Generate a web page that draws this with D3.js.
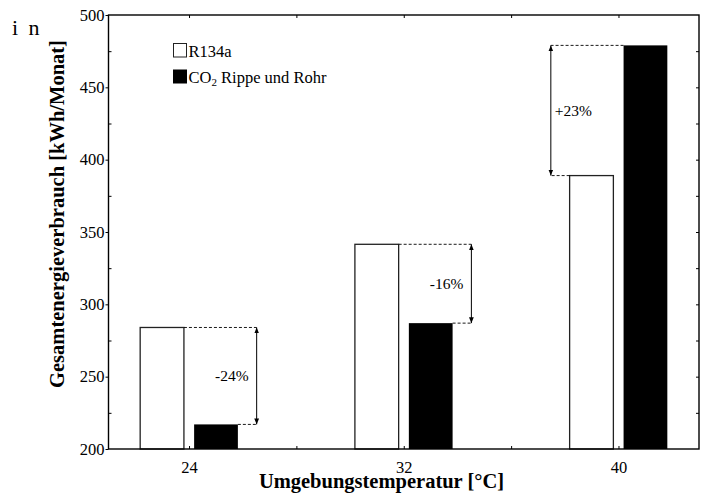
<!DOCTYPE html>
<html>
<head>
<meta charset="utf-8">
<script src="https://cdn.jsdelivr.net/npm/d3@7/dist/d3.min.js"></script>
<style>
  html, body { margin: 0; padding: 0; background: #fff; }
  svg { display: block; }
  text { font-family: "Liberation Serif", "Times New Roman", serif; fill: #000; }
</style>
</head>
<body>
<script>
// ---- data ----
const categories = [24, 32, 40];
const r134aValues = [284, 341.5, 389];
const co2Values = [217, 287, 479];
const changeLabels = ["-24%", "-16%", "+23%"];
const seriesNames = ["R134a", "CO2 Rippe und Rohr"];
const yTickValues = [200, 250, 300, 350, 400, 450, 500];
const xTickValues = [24, 32, 40];

// ---- layout ----
const W = 701, H = 494;
const plot = { left: 108.5, right: 699, top: 15, bottom: 449 };

const svg = d3.select("body").append("svg").attr("width", W).attr("height", H);

const x = d3.scaleLinear().domain([21, 43]).range([plot.left, plot.right]);
const y = d3.scaleLinear().domain([200, 500]).range([plot.bottom, plot.top]);

const halfGap = 0.19, barW = 1.63;

// bars
const g = svg.append("g");
g.selectAll("rect.r134a").data(categories).join("rect")
  .attr("class", "r134a")
  .attr("x", d => x(d - halfGap - barW))
  .attr("width", (d) => x(d - halfGap) - x(d - halfGap - barW))
  .attr("y", (d, i) => y(r134aValues[i]))
  .attr("height", (d, i) => y(200) - y(r134aValues[i]))
  .attr("fill", "#fff").attr("stroke", "#222").attr("stroke-width", 1.3);

g.selectAll("rect.co2").data(categories).join("rect")
  .attr("class", "co2")
  .attr("x", d => x(d + halfGap))
  .attr("width", (d) => x(d + halfGap + barW) - x(d + halfGap))
  .attr("y", (d, i) => y(co2Values[i]))
  .attr("height", (d, i) => y(200) - y(co2Values[i]))
  .attr("fill", "#000");

// axes
const yMajor = d3.axisLeft(y).tickValues(yTickValues).tickSize(3).tickPadding(1).tickFormat(d3.format("d"));
svg.append("g").attr("transform", `translate(${plot.left},0)`).call(yMajor);
const yMinor = d3.axisRight(y).tickValues(d3.range(225, 500, 50)).tickSize(3).tickFormat("");
svg.append("g").attr("transform", `translate(${plot.left},0)`).call(yMinor);
const yRight = d3.axisLeft(y).tickValues(d3.range(225, 500, 25)).tickSize(3).tickFormat("");
svg.append("g").attr("transform", `translate(${plot.right},0)`).call(yRight);

const xBottom = d3.axisTop(x).tickValues(d3.range(24, 41, 4)).tickSize(3).tickFormat("");
svg.append("g").attr("transform", `translate(0,${plot.bottom})`).call(xBottom);
const xTop = d3.axisBottom(x).tickValues(d3.range(24, 41, 4)).tickSize(3).tickFormat("");
svg.append("g").attr("transform", `translate(0,${plot.top})`).call(xTop);
const xLabels = d3.axisBottom(x).tickValues(xTickValues).tickSize(0).tickPadding(12).tickFormat(d3.format("d"));
svg.append("g").attr("transform", `translate(0,${plot.bottom})`).call(xLabels);

svg.selectAll(".domain").remove();
svg.selectAll(".tick line").attr("stroke", "#000").attr("stroke-width", 1);
svg.selectAll(".tick text").style("font-family", "'Liberation Serif', serif").style("font-size", "16.5px").attr("fill", "#000");

// frame
svg.append("rect")
  .attr("x", plot.left).attr("y", plot.top)
  .attr("width", plot.right - plot.left).attr("height", plot.bottom - plot.top)
  .attr("fill", "none").attr("stroke", "#000").attr("stroke-width", 1.4);

// annotations
const defs = svg.append("defs");
defs.append("marker").attr("id", "ah").attr("viewBox", "0 0 10 10")
  .attr("refX", 10).attr("refY", 5).attr("markerWidth", 6).attr("markerHeight", 6)
  .attr("markerUnits", "userSpaceOnUse").attr("orient", "auto-start-reverse")
  .append("path").attr("d", "M0,1 L10,5 L0,9 Z").attr("fill", "#000");

categories.forEach((c, i) => {
  const a = r134aValues[i], b = co2Values[i];
  const leftSide = b > a;
  const ax = leftSide ? x(c - 2.52) : x(c + 2.52);
  const ann = svg.append("g");
  const whiteEdge = leftSide ? x(c - halfGap - barW) : x(c - halfGap);
  const blackEdge = leftSide ? x(c + halfGap) : x(c + halfGap + barW);
  ann.append("line").attr("x1", whiteEdge).attr("x2", ax).attr("y1", y(a)).attr("y2", y(a))
    .attr("stroke", "#000").attr("stroke-width", 0.9).attr("stroke-dasharray", "3,2");
  ann.append("line").attr("x1", blackEdge).attr("x2", ax).attr("y1", y(b)).attr("y2", y(b))
    .attr("stroke", "#000").attr("stroke-width", 0.9).attr("stroke-dasharray", "3,2");
  ann.append("line").attr("x1", ax).attr("x2", ax).attr("y1", y(a)).attr("y2", y(b))
    .attr("stroke", "#000").attr("stroke-width", 1)
    .attr("marker-start", "url(#ah)").attr("marker-end", "url(#ah)");
  ann.append("text")
    .attr("x", leftSide ? ax + 4 : ax - 8)
    .attr("y", (y(a) + y(b)) / 2)
    .attr("dy", "0.35em")
    .attr("text-anchor", leftSide ? "start" : "end")
    .style("font-size", "15.5px")
    .text(changeLabels[i]);
});

// legend
const lg = svg.append("g");
lg.append("rect").attr("x", 173.5).attr("y", 43.5).attr("width", 13).attr("height", 13.5)
  .attr("fill", "#fff").attr("stroke", "#222").attr("stroke-width", 1);
lg.append("text").attr("x", 188.5).attr("y", 56.5).style("font-size", "16.5px").text(seriesNames[0]);
lg.append("rect").attr("x", 173).attr("y", 69.5).attr("width", 14).attr("height", 14).attr("fill", "#000");
const t2 = lg.append("text").attr("x", 188.5).attr("y", 83).style("font-size", "16.5px");
t2.append("tspan").text("CO");
t2.append("tspan").attr("dy", 3).style("font-size", "11px").text("2");
t2.append("tspan").attr("dy", -3).text(" Rippe und Rohr");

// axis titles
svg.append("text")
  .attr("x", 381.5).attr("y", 488)
  .attr("text-anchor", "middle")
  .style("font-size", "20.5px").style("font-weight", "bold")
  .text("Umgebungstemperatur [°C]");

svg.append("text")
  .attr("transform", "translate(64,214) rotate(-90)")
  .attr("text-anchor", "middle")
  .style("font-size", "20.5px").style("font-weight", "bold")
  .text("Gesamtenergieverbrauch [kWh/Monat]");

// stray text at top-left
svg.append("text").attr("x", 12).attr("y", 35)
  .style("font-size", "22px").style("letter-spacing", "2.5px")
  .text("i n");
</script>
</body>
</html>
